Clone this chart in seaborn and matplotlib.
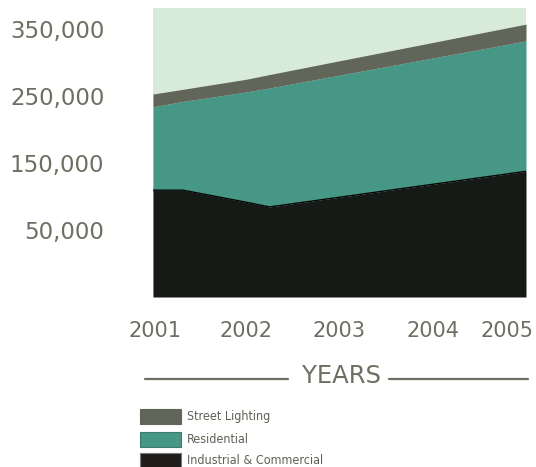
import matplotlib
matplotlib.use("Agg")
import matplotlib.pyplot as plt
import seaborn as sns
import pandas as pd
from matplotlib.patches import Rectangle
from matplotlib.lines import Line2D
from matplotlib.transforms import ScaledTranslation

# Electricity consumption by sector (stacked), sampled where the series bend
years = [2001.0, 2001.32, 2002.0, 2002.25, 2005.0]
industrial = [110000, 110000, 92000, 85000, 138000]
residential = [124000, 132000, 164000, 177000, 194000]
street_lighting = [19000, 18000, 19000, 20000, 25000]

series_names = ["Street Lighting", "Residential", "Industrial & Commercial"]
tick_years = [2001, 2002, 2003, 2004, 2005]
tick_labels = ["2001", "2002", "2003", "2004", "2005"]
y_ticks = [50000, 150000, 250000, 350000]
y_tick_labels = ["50,000", "150,000", "250,000", "350,000"]
x_title = "YEARS"

C_BG = "#d8ebd9"
C_STREET = "#62665a"
C_RES = "#479787"
C_IND = "#151a16"
C_TEXT = "#6d6f62"

sns.set_theme(style="white")
plt.rcParams["font.family"] = ["DejaVu Sans"]

W, H = 536, 467
fig = plt.figure(figsize=(W / 100, H / 100), dpi=100)
ax = fig.add_axes([153 / W, 1 - 297 / H, 373 / W, 289 / H])
ax.set_facecolor(C_BG)

y_min, y_max = -49000, 381000
df = pd.DataFrame({"year": years, "ind": industrial,
                   "res": residential, "street": street_lighting})
df["res_top"] = df["ind"] + df["res"]
df["street_top"] = df["res_top"] + df["street"]

ax.fill_between(df["year"], y_min, df["ind"], color=C_IND, lw=0)
ax.fill_between(df["year"], df["ind"], df["res_top"], color=C_RES, lw=0)
ax.fill_between(df["year"], df["res_top"], df["street_top"], color=C_STREET, lw=0)
sns.lineplot(data=df, x="year", y="ind", color="#050505", lw=1.0, ax=ax)

ax.set_xlim(2001, 2005)
ax.set_ylim(y_min, y_max)
ax.set_xlabel("")
ax.set_ylabel("")
for s in ax.spines.values():
    s.set_visible(False)

ax.set_yticks(y_ticks)
ax.set_yticklabels(y_tick_labels, fontsize=16.5, color=C_TEXT)
ax.set_xticks(tick_years)
ax.set_xticklabels(tick_labels, fontsize=15, color=C_TEXT)
ax.tick_params(axis="y", length=0, pad=35)
ax.tick_params(axis="x", length=0, pad=17)
# keep the last year label inside the figure
last = ax.get_xticklabels()[-1]
last.set_transform(last.get_transform() + ScaledTranslation(-0.19, 0, fig.dpi_scale_trans))
first = ax.get_xticklabels()[0]
first.set_transform(first.get_transform() + ScaledTranslation(0.02, 0, fig.dpi_scale_trans))

# axis title with rules on either side
fig.text(341 / W, 1 - 376 / H, x_title, fontsize=17.5, color=C_TEXT,
         ha="center", va="center")
for x0, x1 in [(145, 288), (389, 528)]:
    fig.add_artist(Line2D([x0 / W, x1 / W], [1 - 379 / H] * 2,
                          color=C_TEXT, lw=1.6))

# legend
legend_items = [
    (series_names[0], C_STREET, C_STREET, 409, 424),
    (series_names[1], C_RES, "#3b7a6d", 432, 447),
    (series_names[2], "#1f1c1c", "#7a7a7a", 453, 468),
]
for name, face, edge, top, bottom in legend_items:
    fig.add_artist(Rectangle((140 / W, 1 - bottom / H), 41 / W, (bottom - top) / H,
                             facecolor=face, edgecolor=edge, lw=0.8,
                             transform=fig.transFigure))
    fig.text(187 / W, 1 - ((top + bottom) / 2) / H, name, fontsize=9,
             color="#5f6156", ha="left", va="center", fontstretch="condensed")

fig.savefig("out.png", dpi=100)
